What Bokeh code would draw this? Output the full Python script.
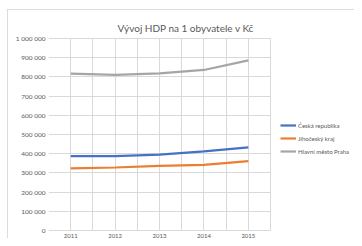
from bokeh.plotting import figure
from bokeh.models import FixedTicker, Legend, LegendItem, Title
from bokeh.core.properties import value
from bokeh.embed import file_html
from bokeh.resources import INLINE

years = ["2011", "2012", "2013", "2014", "2015"]
ceska_republika = [387000, 387000, 395000, 412000, 433000]
jihocesky_kraj = [323000, 328000, 337000, 342000, 361000]
praha = [817000, 810000, 818000, 836000, 886000]
series_names = ["Česká republika", "Jihočeský kraj", "Hlavní město Praha"]
series_colors = ["#4472C4", "#ED7D31", "#A5A5A5"]
y_ticks = [0, 100000, 200000, 300000, 400000, 500000, 600000, 700000, 800000, 900000, 1000000]
y_tick_labels = ["0", "100 000", "200 000", "300 000", "400 000", "500 000",
                 "600 000", "700 000", "800 000", "900 000", "1 000 000"]
title_text = "Vývoj HDP na 1 obyvatele v Kč"

FONT = "Lato"
TXT = "#595959"
GRID = "#d9d9d9"

x = list(range(len(years)))
n = len(years)

chart_border = ("linear-gradient(#dcdcdc,#dcdcdc) 7px 9px / 1px 100% no-repeat, "
                "linear-gradient(#dcdcdc,#dcdcdc) 7px 9px / 100% 1px no-repeat, #ffffff")

p = figure(width=354, height=238, output_backend="svg", toolbar_location=None,
           x_range=(-0.5, 6.39), y_range=(-41667, 1005000),
           min_border_left=48, min_border_right=0, min_border_top=37, min_border_bottom=0,
           border_fill_alpha=0, styles={"background": chart_border})
p.outline_line_color = None

t = Title(text=title_text, align="left", offset=69, text_font=FONT, text_font_size="10px",
          text_color=TXT, text_font_style="normal", standoff=7)
p.add_layout(t, "above")
p.title.visible = False

series = [ceska_republika, jihocesky_kraj, praha]
renderers = []
for vals, col in zip(series, series_colors):
    r = p.line(x, vals, line_color=col, line_width=2.2)
    renderers.append(r)

# category labels under the zero line
p.text(x, [0] * n, text=years, y_offset=6, text_align="center", text_baseline="middle",
       text_font=value(FONT), text_font_size="6px", text_color=TXT)

legend = Legend(items=[LegendItem(label=s, renderers=[r]) for s, r in zip(series_names, renderers)],
                location=(232, 81), padding=0, margin=0, spacing=1,
                glyph_width=16, glyph_height=12, label_height=12, label_standoff=2,
                label_text_font=FONT, label_text_font_size="6px", label_text_color=TXT,
                border_line_color=None, background_fill_alpha=0)
p.add_layout(legend, "center")

# axes
p.xaxis.visible = False
p.yaxis.ticker = FixedTicker(ticks=y_ticks)
p.yaxis.major_label_overrides = {v: s for v, s in zip(y_ticks, y_tick_labels)}
p.yaxis.major_tick_line_color = None
p.yaxis.minor_tick_line_color = None
p.yaxis.major_tick_out = 0
p.yaxis.major_tick_in = 0
p.yaxis.major_label_text_font = FONT
p.yaxis.major_label_text_font_size = "6.5px"
p.yaxis.major_label_text_color = TXT
p.yaxis.axis_line_color = None
p.yaxis.major_label_standoff = 3

p.xgrid.ticker = FixedTicker(ticks=[i * 0.5 - 0.5 for i in range(2 * n + 1)])
p.xgrid.cross_bounds = (0, 1000000)
p.ygrid.ticker = FixedTicker(ticks=y_ticks)
p.ygrid.cross_bounds = (-0.5, n - 0.5)
p.xgrid.grid_line_color = GRID
p.ygrid.grid_line_color = GRID

open("out.html", "w").write(file_html(p, INLINE))
